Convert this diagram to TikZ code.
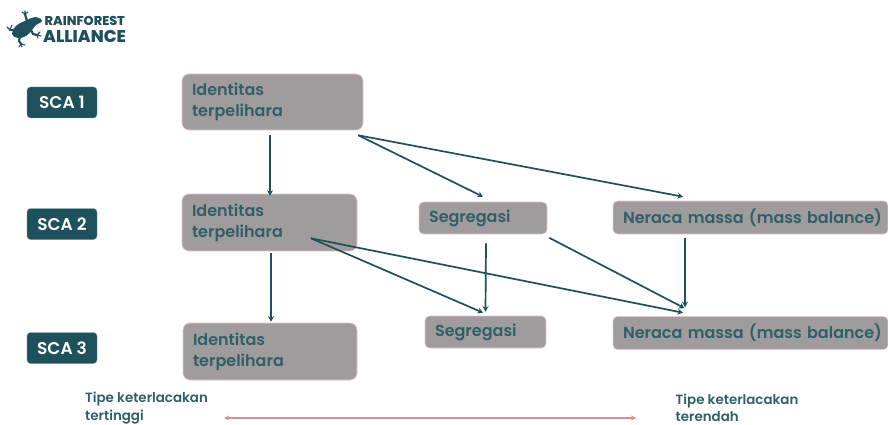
\documentclass[tikz,border=0pt]{standalone}
\usepackage{fontspec}
\setmainfont[BoldFont={Poppins SemiBold}]{Poppins}
\newfontfamily\logofont[BoldFont={Poppins ExtraBold}]{Poppins}
\usetikzlibrary{arrows.meta}
\definecolor{teal}{HTML}{1F515C}
\definecolor{tealtext}{HTML}{2F5F68}
\definecolor{boxgrey}{HTML}{A09C9D}
\definecolor{boxedge}{HTML}{E8C8C8}
\definecolor{redline}{HTML}{E58A90}
\tikzset{
  x=1pt,y=-1pt,
  scabox/.style={draw=teal!60,fill=teal,rounded corners=3.5pt,minimum width=70pt,minimum height=31pt,inner sep=0pt,text=white,font=\fontsize{17}{19}\selectfont\bfseries},
  greybox/.style={draw=boxedge,line width=.6pt,fill=boxgrey,rounded corners=7pt,inner sep=0pt,text=tealtext,align=left,font=\fontsize{16}{21}\selectfont\bfseries},
  flowbox/.style={greybox,rounded corners=4.5pt},
  arrowline/.style={draw=teal,line width=1.7pt,-{Stealth[length=5.5pt,width=6pt]}},
  rangeline/.style={draw=redline,line width=1.5pt,{Stealth[length=5pt,width=5pt]}-{Stealth[length=5pt,width=5pt]}},
  caption/.style={inner sep=0pt,text=tealtext,align=left,anchor=west,font=\fontsize{13.4}{17.5}\selectfont\bfseries},
  froglimb/.style={draw=teal,line width=2.2pt,line cap=round,line join=round},
  frogtoe/.style={draw=teal,line width=1.1pt,line cap=round},
}
\begin{document}
\begin{tikzpicture}
\useasboundingbox (0,0) rectangle (888,425);
% logo
\node[inner sep=0pt,anchor=west,text=teal,font=\logofont\fontsize{12.8}{14}\selectfont\bfseries] (logoa) at (44.5,21) {RAINFOREST};
\node[inner sep=0pt,anchor=west,text=teal,font=\logofont\fontsize{17}{19}\selectfont\bfseries] (logob) at (43,36.5) {ALLIANCE};
\fill[teal] plot[smooth cycle,tension=.7] coordinates {(12,34) (16,26) (27,20) (36,17) (42,21) (36,25) (32,30) (26,36) (18,38)};
\draw[froglimb] (27,21) -- (25,14);
\draw[frogtoe] (25,14) -- (22,12) (25,14) -- (25,11) (25,14) -- (28,12);
\draw[froglimb] (15,30) -- (10,30);
\draw[frogtoe] (10,30) -- (7,27) (10,30) -- (12,25);
\draw[froglimb] (20,36) -- (19,41) -- (21,44);
\draw[frogtoe] (21,44) -- (19,47) (21,44) -- (22,47) (21,44) -- (25,45);
\draw[froglimb] (30,28) -- (33,34) -- (37,35);
\draw[frogtoe] (37,35) -- (40,32) (37,35) -- (41,36) (37,35) -- (38,38);
% SCA labels
\node[scabox] (sca1) at (62,102.5) {SCA 1};
\node[scabox] (sca2) at (62,224) {SCA 2};
\node[scabox] (sca3) at (62,348) {SCA 3};
% boxes
\node[greybox,minimum width=181pt,minimum height=56pt,text width=161pt] (idt1) at (272.5,102) {Identitas\\terpelihara};
\node[greybox,minimum width=175pt,minimum height=57pt,text width=155pt] (idt2) at (269.5,222.5) {Identitas\\terpelihara};
\node[greybox,minimum width=174pt,minimum height=57pt,text width=154pt] (idt3) at (270,351.5) {Identitas\\terpelihara};
\node[flowbox,minimum width=128pt,minimum height=32pt,text width=108pt] (seg1) at (483,218) {Segregasi};
\node[flowbox,minimum width=121pt,minimum height=32pt,text width=101pt] (seg2) at (485.5,332) {Segregasi};
\node[flowbox,minimum width=275pt,minimum height=33pt,text width=265pt] (ner1) at (750.5,217.5) {\hspace*{5pt}Neraca massa (mass balance)};
\node[flowbox,minimum width=275pt,minimum height=33pt,text width=265pt] (ner2) at (750.5,333) {\hspace*{5pt}Neraca massa (mass balance)};
% connectors
\draw[arrowline] ([xshift=-2.5pt,yshift=-5pt]idt1.south) -- ([xshift=.5pt,yshift=-2pt]idt2.north);
\draw[arrowline] ([xshift=-5pt,yshift=-5pt]idt1.south east) -- ([yshift=5pt]seg1.north);
\draw[arrowline] ([xshift=-5pt,yshift=-5pt]idt1.south east) -- ([xshift=-67.5pt,yshift=4pt]ner1.north);
\draw[arrowline] ([xshift=1.5pt,yshift=-2pt]idt2.south) -- ([xshift=1pt,yshift=1pt]idt3.north);
\draw[arrowline] ([xshift=41.5pt,yshift=13pt]idt2.south) -- ([xshift=-2.5pt,yshift=3pt]seg2.north);
\draw[arrowline] ([xshift=41.5pt,yshift=13pt]idt2.south) -- ([xshift=-67.5pt,yshift=3.5pt]ner2.north);
\draw[arrowline] ([xshift=3pt,yshift=-9pt]seg1.south) -- ([yshift=4pt]seg2.north);
\draw[arrowline] ([xshift=2pt,yshift=-3.5pt]seg1.south east) -- ([xshift=-66pt,yshift=8pt]ner2.north);
\draw[arrowline] ([xshift=-65.5pt,yshift=-4pt]ner1.south) -- ([xshift=-65.5pt,yshift=9pt]ner2.north);
% captions
\node[caption] (high) at (85,408) {Tipe keterlacakan\\tertinggi};
\node[caption] (low) at (675.5,408) {Tipe keterlacakan\\terendah};
\draw[rangeline] ([xshift=16pt,yshift=-10pt]high.east) -- ([xshift=-39.5pt,yshift=-10pt]low.west);
\end{tikzpicture}
\end{document}
